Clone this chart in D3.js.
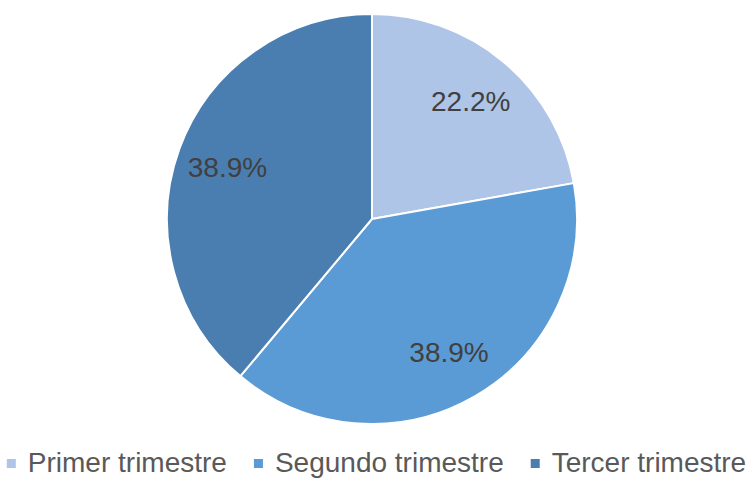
<html>
<head>
  <script src="https://d3js.org/d3.v7.min.js"></script>
  <style>
    body { margin: 0; background: #ffffff; }
    text { font-family: "Liberation Sans", Arial, sans-serif; }
  </style>
</head>
<body>
  <div id="chart"></div>
  <script>
    // data
    var categories = ["Primer trimestre", "Segundo trimestre", "Tercer trimestre"];
    var shares = [22.2, 38.9, 38.9];
    var colors = ["#AEC5E7", "#5B9BD5", "#4A7EB0"];

    var width = 753, height = 481;
    var cx = 372, cy = 219, radius = 205;

    var svg = d3.select("#chart").append("svg")
      .attr("width", width).attr("height", height);

    var colorScale = d3.scaleOrdinal().domain(categories).range(colors);

    var pie = d3.pie().sort(null).value(function(d, i) { return shares[i]; });
    var arcs = pie(categories);

    var arc = d3.arc().innerRadius(0).outerRadius(radius);
    var labelArc = d3.arc().innerRadius(radius * 0.75).outerRadius(radius * 0.75);

    var g = svg.append("g").attr("transform", "translate(" + cx + "," + cy + ")");

    g.selectAll("path.slice").data(arcs).enter().append("path")
      .attr("class", "slice")
      .attr("d", arc)
      .style("fill", function(d) { return colorScale(d.data); })
      .style("stroke", "#ffffff")
      .style("stroke-width", 2);

    g.selectAll("text.label").data(arcs).enter().append("text")
      .attr("class", "label")
      .attr("transform", function(d) { return "translate(" + labelArc.centroid(d) + ")"; })
      .attr("text-anchor", "middle")
      .attr("dy", "0.36em")
      .style("font-size", "28px")
      .style("fill", "#404040")
      .text(function(d, i) { return shares[i].toFixed(1) + "%"; });

    // legend, centered under the pie
    var legend = svg.append("g").attr("class", "legend");
    var items = legend.selectAll("g.item").data(categories).enter().append("g").attr("class", "item");
    items.append("rect")
      .attr("width", 9).attr("height", 9)
      .attr("y", -13)
      .style("fill", function(d) { return colorScale(d); });
    items.append("text")
      .attr("x", 21)
      .style("font-size", "28px")
      .style("fill", "#595959")
      .text(function(d) { return d; });

    var x = 0;
    items.each(function() {
      var w = d3.select(this).select("text").node().getComputedTextLength();
      d3.select(this).attr("transform", "translate(" + x + ",0)");
      x += 21 + w + 27;
    });
    var total = x - 27;
    legend.attr("transform", "translate(" + ((width - total) / 2) + ",472)");
  </script>
</body>
</html>
